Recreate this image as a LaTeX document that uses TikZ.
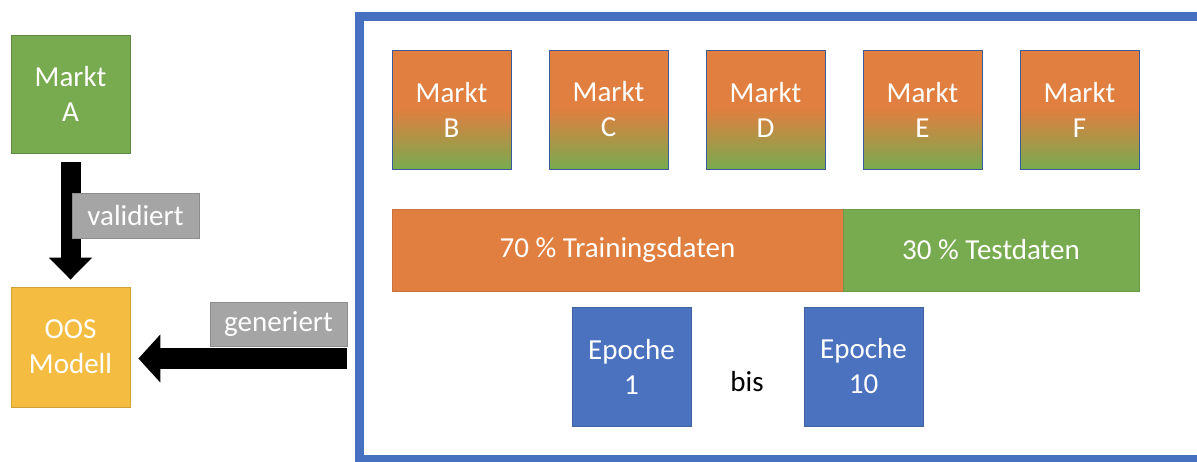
\documentclass[tikz,border=0pt]{standalone}
\usepackage{fontspec}
\setmainfont{Carlito}
\usetikzlibrary{arrows.meta}
\definecolor{mgreen}{HTML}{78AB4F}
\definecolor{morange}{HTML}{E07F3F}
\definecolor{mblue}{HTML}{4A72BF}
\definecolor{mgold}{HTML}{F4BD41}
\definecolor{mgray}{HTML}{A5A5A5}
\definecolor{mframe}{HTML}{4670C0}
\begin{document}
\begin{tikzpicture}[x=1pt,y=-1pt,
  font=\fontsize{29}{35}\selectfont,
  box/.style={minimum width=119pt,minimum height=119pt,inner sep=0pt,
    align=center,text=white,line width=0.8pt},
  greenbox/.style={box,fill=mgreen,draw=mgreen!80!black},
  goldbox/.style={box,fill=mgold,draw=mgold!85!black},
  mktbox/.style={box,draw=mblue!80!black,top color=morange,bottom color=mgreen,
    middle color=morange},
  epochbox/.style={box,fill=mblue,draw=mblue!85!black},
  bar/.style={minimum height=82pt,inner sep=0pt,text=white,line width=0.8pt},
  tag/.style={fill=mgray,draw=mgray!85!black,line width=0.6pt,text=white,
    inner sep=0pt,minimum height=45pt},
  blockarrow/.style={draw=black,line width=#1}
]
\useasboundingbox (0,0) rectangle (1197,461);
\fill[white] (0,0) rectangle (1197,461);
\clip (0,0) rectangle (1197,461);

% outer frame around the training set-up
\draw[mframe,line width=9pt] (359,16) rectangle (1201,459);

% left column
\node[greenbox,minimum height=118pt] (A) at (70.5,94) {Markt\\A};
\node[goldbox,minimum height=120pt] (OOS) at (70.5,347) {OOS\\Modell};

% markets inside the frame
\node[mktbox] (B) at (451.5,109.5) {Markt\\B};
\node[mktbox] (C) at (608.5,109.5) {Markt\\C};
\node[mktbox] (D) at (765.5,109.5) {Markt\\D};
\node[mktbox] (E) at (922.5,109.5) {Markt\\E};
\node[mktbox] (F) at (1079.5,109.5) {Markt\\F};

% data split
\node[bar,fill=morange,draw=morange!90!black,minimum width=451pt] (train) at (617.5,250) {70 \% Trainingsdaten};
\node[bar,fill=mgreen,draw=mgreen!90!black,minimum width=296pt] (test) at (991,250) {30 \% Testdaten};

% epochs
\node[epochbox] (ep1) at (631.5,366.5) {Epoche\\1};
\node[epochbox] (ep10) at (863.5,366.5) {Epoche\\10};
\node (bis) at (747,382) {bis};

% arrows
\draw[blockarrow=20pt,-{Triangle[width=42pt,length=22pt]},shorten <=9pt,shorten >=7pt]
  (A.south) -- (OOS.north);
\coordinate (gs) at (347,358.5);
\draw[blockarrow=21pt,-{Triangle[width=47pt,length=22pt]},shorten >=8pt]
  (gs) -- (OOS.east |- gs);

% arrow labels
\node[tag,minimum width=127pt] (val) at (135.5,215.5) {validiert};
\node[tag,minimum width=137pt,minimum height=44pt] (gen) at (278.5,324) {generiert};
\end{tikzpicture}
\end{document}
